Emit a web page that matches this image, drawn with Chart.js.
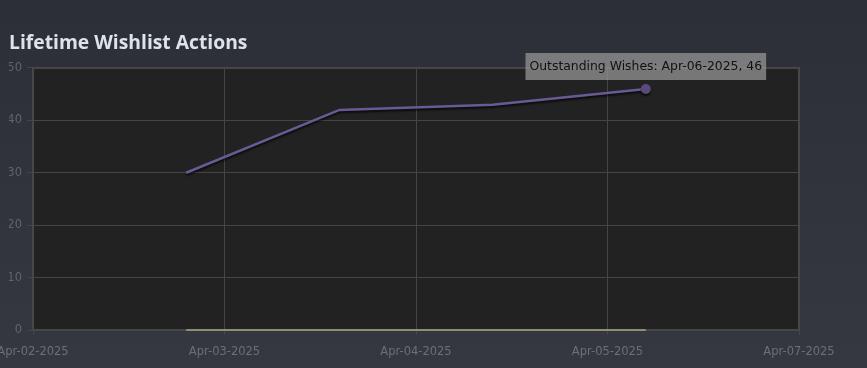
<!DOCTYPE html>
<html>
<head>
<meta charset="utf-8">
<script src="https://cdn.jsdelivr.net/npm/chart.js@4"></script>
<style>
  html, body { margin: 0; padding: 0; }
  body {
    width: 867px; height: 368px; overflow: hidden;
    background: linear-gradient(to bottom, #2c2f37 0%, #30333b 45%, #353841 100%);
  }
  #wrap { position: relative; width: 867px; height: 368px; }
</style>
</head>
<body>
<div id="wrap"><canvas id="wishChart" width="867" height="368"></canvas></div>
<script>
// Chart data
const startDate = 'Apr-02-2025';
const dates = ['Apr-03-2025', 'Apr-04-2025', 'Apr-05-2025', 'Apr-06-2025'];
const outstandingWishes = [30, 42, 43, 46];
const zeroSeries = [0, 0, 0, 0];
const xTickLabels = ['Apr-02-2025', 'Apr-03-2025', 'Apr-04-2025', 'Apr-05-2025', 'Apr-07-2025'];
const yTicks = [0, 10, 20, 30, 40, 50];

const MONTHS = { Jan: 0, Feb: 1, Mar: 2, Apr: 3, May: 4, Jun: 5, Jul: 6, Aug: 7, Sep: 8, Oct: 9, Nov: 10, Dec: 11 };
function dayNum(s) {
    const [m, d, y] = s.split('-');
    return Date.UTC(Number(y), MONTHS[m], Number(d)) / 86400000;
}
const day0 = dayNum(startDate);
const xSpan = dayNum(xTickLabels[xTickLabels.length - 1]) - day0;
const toPoints = vals => vals.map((v, i) => ({ x: dayNum(dates[i]) - day0, y: v, label: dates[i] }));

// plot background + frame + line shadow
const plotFrame = {
    id: 'plotFrame',
    beforeDraw(chart) {
        const { ctx, chartArea: a } = chart;
        ctx.save();
        ctx.fillStyle = '#222222';
        ctx.fillRect(a.left, a.top, a.right - a.left, a.bottom - a.top);
        ctx.restore();
    },
    beforeDatasetsDraw(chart) {
        const { ctx, chartArea: a } = chart;
        ctx.save();
        ctx.strokeStyle = '#474747';
        ctx.lineWidth = 2;
        ctx.strokeRect(a.left, a.top, a.right - a.left, a.bottom - a.top);
        ctx.restore();
    },
    beforeDatasetDraw(chart, args) {
        const ctx = chart.ctx;
        ctx.save();
        if (args.index === 0) {
            ctx.shadowColor = 'rgba(0,0,0,0.7)';
            ctx.shadowOffsetY = 2;
            ctx.shadowBlur = 2;
        }
    },
    afterDatasetDraw(chart) {
        chart.ctx.restore();
    }
};

const tickFont = { family: 'DejaVu Sans', size: 11.5 };

const chart = new Chart(document.getElementById('wishChart'), {
    type: 'line',
    data: {
        datasets: [
            {
                label: 'Outstanding Wishes',
                data: toPoints(outstandingWishes),
                borderColor: '#6a5a93',
                borderWidth: 2.5,
                pointRadius: 0,
                pointHoverRadius: 5,
                pointBackgroundColor: '#5a4a7c',
                pointHoverBackgroundColor: '#5a4a7c',
                pointHoverBorderColor: '#5a4a7c',
                pointHoverBorderWidth: 0,
                tension: 0
            },
            {
                label: 'Zero',
                data: toPoints(zeroSeries),
                borderColor: '#8e8e76',
                borderWidth: 2,
                pointRadius: 0,
                pointHoverRadius: 0,
                clip: false,
                tension: 0
            }
        ]
    },
    options: {
        responsive: false,
        animation: false,
        events: [],
        layout: { padding: { left: 9, right: 68, top: 0, bottom: 0 } },
        scales: {
            x: {
                type: 'linear',
                min: 0,
                max: xSpan,
                afterBuildTicks(scale) {
                    scale.ticks = xTickLabels.map((t, i) => ({ value: i * xSpan / (xTickLabels.length - 1) }));
                },
                afterFit(scale) {
                    scale.paddingLeft = 0;
                    scale.paddingRight = 0;
                    scale.height = 38;
                },
                ticks: {
                    color: '#6c6f77',
                    font: tickFont,
                    padding: 10,
                    maxRotation: 0,
                    autoSkip: false,
                    callback: (v, i) => xTickLabels[i]
                },
                grid: { color: '#454545', lineWidth: 1, tickLength: 5, drawOnChartArea: true },
                border: { display: false }
            },
            y: {
                min: 0,
                max: 50,
                afterBuildTicks(scale) {
                    scale.ticks = yTicks.map(v => ({ value: v }));
                },
                afterFit(scale) {
                    scale.width = 24;
                    scale.paddingTop = 0;
                    scale.paddingBottom = 0;
                },
                ticks: { color: '#60636b', font: tickFont, padding: 5 },
                grid: { color: '#454545', lineWidth: 1, tickLength: 6 },
                border: { display: false }
            }
        },
        plugins: {
            legend: { display: false },
            title: {
                display: true,
                text: 'Lifetime Wishlist Actions',
                align: 'start',
                color: '#dde3ea',
                font: { family: 'Open Sans', size: 19.3, weight: 'bold', lineHeight: 1.2 },
                padding: { top: 32, bottom: 12.8 }
            },
            tooltip: {
                enabled: true,
                backgroundColor: 'rgba(150,150,150,0.74)',
                bodyColor: '#111111',
                bodyFont: { family: 'DejaVu Sans', size: 12.4 },
                padding: { x: 4, y: 6 },
                caretSize: 0,
                caretPadding: 9,
                cornerRadius: 0,
                displayColors: false,
                xAlign: 'center',
                yAlign: 'bottom',
                callbacks: {
                    title: () => '',
                    label: c => c.dataset.label + ': ' + c.raw.label + ', ' + c.raw.y
                }
            }
        }
    },
    plugins: [plotFrame]
});

// show the tooltip on the last point, as in the reference
const last = outstandingWishes.length - 1;
const el = chart.getDatasetMeta(0).data[last];
chart.setActiveElements([{ datasetIndex: 0, index: last }]);
chart.tooltip.setActiveElements([{ datasetIndex: 0, index: last }], { x: el.x, y: el.y });
chart.update();
</script>
</body>
</html>
